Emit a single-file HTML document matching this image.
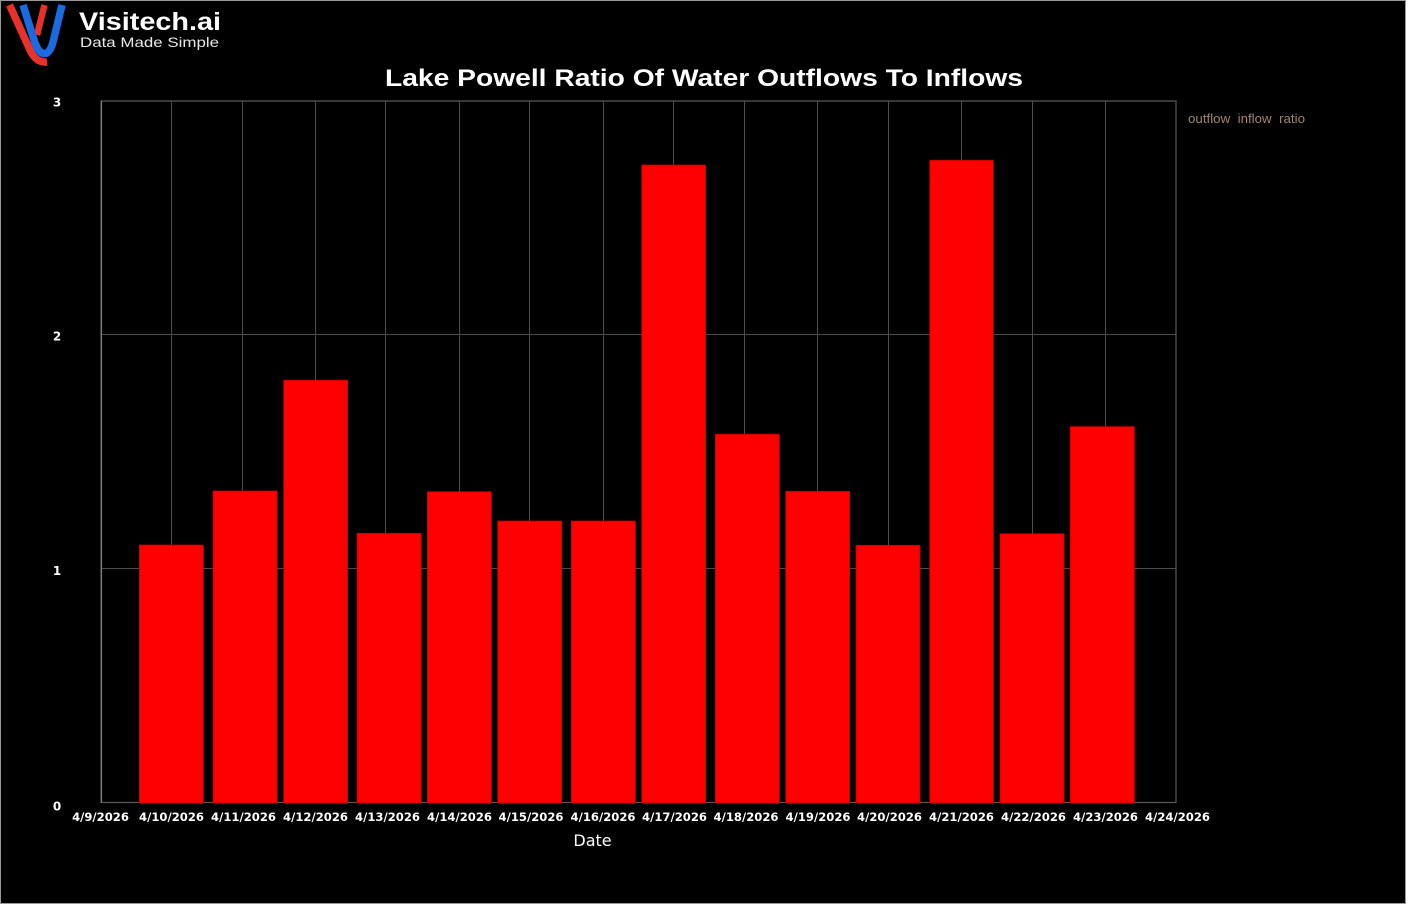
<!DOCTYPE html>
<html>
<head>
<meta charset="utf-8">
<style>
  html, body { margin:0; padding:0; background:#ffffff; }
  body { width:1408px; height:905px; overflow:hidden; position:relative; }
  .frame { position:absolute; left:0; top:0; width:1406px; height:904px; box-sizing:border-box; border:1px solid #9a9a9a; background:#000; }
  svg { position:absolute; left:0; top:0; }
</style>
</head>
<body>
<div class="frame"></div>
<svg width="1408" height="905" viewBox="0 0 1408 905" xmlns="http://www.w3.org/2000/svg">
  <!-- Logo -->
  <g fill="none" stroke-linecap="butt">
    <path d="M9.5,5 L30,50 Q36,63 47,62" stroke="#e8312a" stroke-width="7.5"/>
    <path d="M44.5,5 L37,35" stroke="#e8312a" stroke-width="6.5"/>
    <path d="M23,5 L35,43 Q40,56 47,53 Q51,50 53,42 L62,5" stroke="#1a6be0" stroke-width="7.5"/>
  </g>
  <text x="79" y="30" font-family="Liberation Sans, sans-serif" font-weight="bold" font-size="25" fill="#ffffff" textLength="142" lengthAdjust="spacingAndGlyphs">Visitech.ai</text>
  <text x="80" y="47" font-family="Liberation Sans, sans-serif" font-size="14" fill="#e8e8e8" textLength="139" lengthAdjust="spacingAndGlyphs">Data Made Simple</text>

  <!-- Title -->
  <text x="385" y="86" font-family="Liberation Sans, DejaVu Sans, sans-serif" font-weight="bold" font-size="24" fill="#ffffff" textLength="638" lengthAdjust="spacingAndGlyphs">Lake Powell Ratio Of Water Outflows To Inflows</text>

  <!-- Grid -->
  <g stroke="#4d4d4d" stroke-width="1">
    <line x1="101" y1="334.5" x2="1176" y2="334.5"/>
    <line x1="101" y1="568.5" x2="1176" y2="568.5"/>
    <line x1="171.5" y1="101" x2="171.5" y2="802"/>
    <line x1="242.5" y1="101" x2="242.5" y2="802"/>
    <line x1="315.5" y1="101" x2="315.5" y2="802"/>
    <line x1="385.5" y1="101" x2="385.5" y2="802"/>
    <line x1="459.5" y1="101" x2="459.5" y2="802"/>
    <line x1="529.5" y1="101" x2="529.5" y2="802"/>
    <line x1="603.5" y1="101" x2="603.5" y2="802"/>
    <line x1="673.5" y1="101" x2="673.5" y2="802"/>
    <line x1="744.5" y1="101" x2="744.5" y2="802"/>
    <line x1="817.5" y1="101" x2="817.5" y2="802"/>
    <line x1="888.5" y1="101" x2="888.5" y2="802"/>
    <line x1="961.5" y1="101" x2="961.5" y2="802"/>
    <line x1="1032.5" y1="101" x2="1032.5" y2="802"/>
    <line x1="1105.5" y1="101" x2="1105.5" y2="802"/>
  </g>
  <!-- Plot border -->
  <rect x="101" y="101" width="1075" height="701.5" fill="none" stroke="#5a5a5a" stroke-width="1.2"/>
  <line x1="101.5" y1="101" x2="101.5" y2="803" stroke="#7a7a7a" stroke-width="1.2"/>

  <!-- Bars -->
  <g fill="#ff0000" stroke="#c40000" stroke-width="0.8">
    <rect x="139.3" y="545" width="64" height="258"/>
    <rect x="213" y="491" width="64" height="312"/>
    <rect x="283.7" y="380.3" width="64" height="422.7"/>
    <rect x="357" y="533.3" width="64" height="269.7"/>
    <rect x="427.3" y="491.7" width="64" height="311.3"/>
    <rect x="497.7" y="521" width="64" height="282"/>
    <rect x="571.3" y="521" width="64" height="282"/>
    <rect x="641.7" y="165" width="64" height="638"/>
    <rect x="715.3" y="434.3" width="64" height="368.7"/>
    <rect x="785.7" y="491.3" width="64" height="311.7"/>
    <rect x="856" y="545.3" width="64" height="257.7"/>
    <rect x="929.7" y="160.3" width="63.6" height="642.7"/>
    <rect x="1000" y="533.7" width="64" height="269.3"/>
    <rect x="1070.3" y="426.7" width="64" height="376.3"/>
  </g>

  <!-- Y labels -->
  <g font-family="DejaVu Sans, Liberation Sans, sans-serif" font-weight="bold" font-size="12" fill="#ffffff" text-anchor="middle">
    <text x="57" y="106.5">3</text>
    <text x="57" y="340.5">2</text>
    <text x="57" y="575">1</text>
    <text x="57" y="810.5">0</text>
  </g>

  <!-- X labels -->
  <g font-family="DejaVu Sans, Liberation Sans, sans-serif" font-weight="bold" font-size="11.6" fill="#ffffff" text-anchor="middle">
    <text x="100.5" y="821">4/9/2026</text>
    <text x="171.5" y="821">4/10/2026</text>
    <text x="243.5" y="821">4/11/2026</text>
    <text x="315.5" y="821">4/12/2026</text>
    <text x="387.5" y="821">4/13/2026</text>
    <text x="459.5" y="821">4/14/2026</text>
    <text x="531" y="821">4/15/2026</text>
    <text x="603" y="821">4/16/2026</text>
    <text x="674.5" y="821">4/17/2026</text>
    <text x="746" y="821">4/18/2026</text>
    <text x="818" y="821">4/19/2026</text>
    <text x="889.5" y="821">4/20/2026</text>
    <text x="961.5" y="821">4/21/2026</text>
    <text x="1033.5" y="821">4/22/2026</text>
    <text x="1105.5" y="821">4/23/2026</text>
    <text x="1177.5" y="821">4/24/2026</text>
  </g>

  <!-- X axis title -->
  <text x="592.5" y="846" font-family="DejaVu Sans, Liberation Sans, sans-serif" font-size="16" fill="#ffffff" text-anchor="middle">Date</text>

  <!-- Legend -->
  <text x="1188" y="123" font-family="Liberation Sans, sans-serif" font-size="13" fill="#a08474" textLength="117" lengthAdjust="spacingAndGlyphs" xml:space="preserve">outflow  inflow  ratio</text>
</svg>
</body>
</html>
